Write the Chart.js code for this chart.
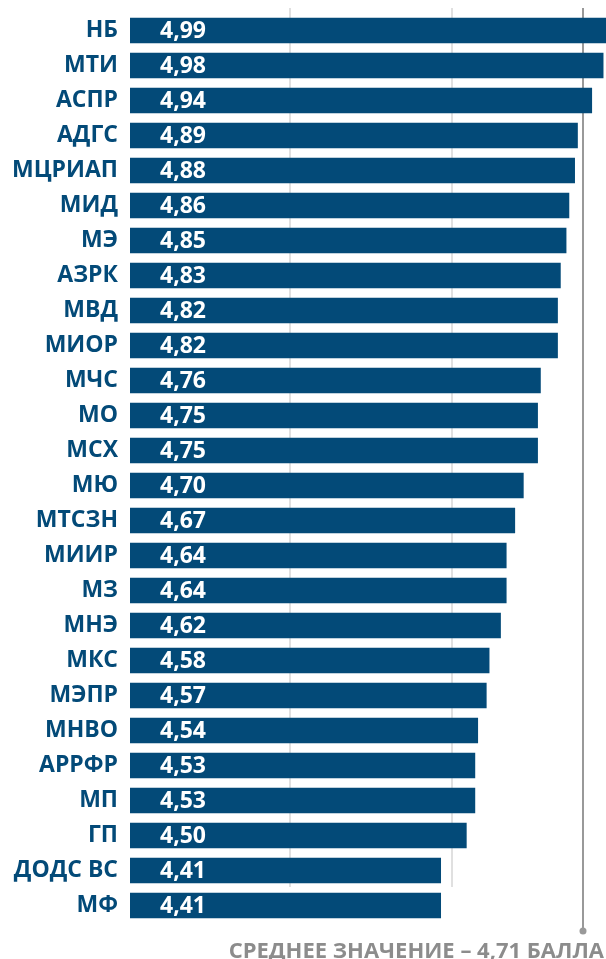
<!DOCTYPE html>
<html>
<head>
<meta charset="utf-8">
<script src="https://cdn.jsdelivr.net/npm/chart.js@4"></script>
<style>
  html, body { margin: 0; padding: 0; background: #ffffff; }
  #wrap { width: 606px; height: 959px; position: relative; }
</style>
</head>
<body>
<div id="wrap"><canvas id="chart"></canvas></div>
<script>
// Ministries / agencies
const categories = ['НБ', 'МТИ', 'АСПР', 'АДГС', 'МЦРИАП', 'МИД', 'МЭ', 'АЗРК', 'МВД', 'МИОР',
  'МЧС', 'МО', 'МСХ', 'МЮ', 'МТСЗН', 'МИИР', 'МЗ', 'МНЭ', 'МКС', 'МЭПР',
  'МНВО', 'АРРФР', 'МП', 'ГП', 'ДОДС ВС', 'МФ'];

// Scores
const scores = [4.99, 4.98, 4.94, 4.89, 4.88, 4.86, 4.85, 4.83, 4.82, 4.82,
  4.76, 4.75, 4.75, 4.70, 4.67, 4.64, 4.64, 4.62, 4.58, 4.57,
  4.54, 4.53, 4.53, 4.50, 4.41, 4.41];

// light vertical guides and the darker marker line
const gridValues = [3.88, 4.45];
const markerValue = 4.91;
const averageText = 'СРЕДНЕЕ ЗНАЧЕНИЕ – 4,71 БАЛЛА';

const NAVY = '#034a78';
const FONT = "'Open Sans', sans-serif";

const fmt = v => v.toFixed(2).replace('.', ',');

// guides drawn behind the bars
const guidesPlugin = {
  id: 'guides',
  beforeDatasetsDraw(chart) {
    const ctx = chart.ctx;
    const x = chart.scales.x;
    const y = chart.scales.y;
    const top = chart.chartArea.top - 5;
    const slot = y.getPixelForValue(1) - y.getPixelForValue(0);
    const gridBottom = y.getPixelForValue(categories.length - 2) + slot * 0.5 - 1;
    ctx.save();
    ctx.strokeStyle = '#e0e0e0';
    ctx.lineWidth = 2;
    gridValues.forEach(v => {
      const px = Math.round(x.getPixelForValue(v));
      ctx.beginPath();
      ctx.moveTo(px, top);
      ctx.lineTo(px, gridBottom);
      ctx.stroke();
    });
    // marker line
    const mx = Math.round(x.getPixelForValue(markerValue));
    const mBottom = chart.chartArea.bottom + 8;
    ctx.strokeStyle = '#999999';
    ctx.lineWidth = 2;
    ctx.beginPath();
    ctx.moveTo(mx, top);
    ctx.lineTo(mx, mBottom);
    ctx.stroke();
    ctx.fillStyle = '#999999';
    ctx.beginPath();
    ctx.arc(mx, mBottom, 3.5, 0, Math.PI * 2);
    ctx.fill();
    ctx.restore();
  },
  afterDraw(chart) {
    const ctx = chart.ctx;
    ctx.save();
    ctx.fillStyle = '#8c8c8c';
    ctx.font = `bold 22px ${FONT}`;
    ctx.textAlign = 'right';
    ctx.textBaseline = 'alphabetic';
    ctx.fillText(averageText, chart.width - 2, chart.height - 1);
    ctx.restore();
  }
};

// value labels inside bars
const valueLabels = {
  id: 'valueLabels',
  afterDatasetsDraw(chart) {
    const ctx = chart.ctx;
    const meta = chart.getDatasetMeta(0);
    const left = chart.chartArea.left;
    ctx.save();
    ctx.fillStyle = '#ffffff';
    ctx.font = `bold 23px ${FONT}`;
    ctx.textAlign = 'left';
    ctx.textBaseline = 'middle';
    meta.data.forEach((bar, i) => {
      ctx.fillText(fmt(scores[i]), left + 30, bar.y + 1);
    });
    ctx.restore();
  }
};

new Chart(document.getElementById('chart'), {
  type: 'bar',
  data: {
    labels: categories,
    datasets: [{
      data: scores,
      backgroundColor: NAVY,
      borderWidth: 0,
      barThickness: 25
    }]
  },
  options: {
    indexAxis: 'y',
    responsive: true,
    maintainAspectRatio: false,
    animation: false,
    layout: { padding: { top: 13, bottom: 36, left: 0, right: 0 } },
    plugins: {
      legend: { display: false },
      tooltip: { enabled: false }
    },
    scales: {
      x: {
        display: false,
        min: 3.32,
        max: 4.99
      },
      y: {
        grid: { display: false, drawTicks: false },
        border: { display: false },
        afterFit(scale) {
          scale.width = 130;
          scale.paddingTop = 0;
          scale.paddingBottom = 0;
        },
        ticks: {
          color: NAVY,
          padding: 12,
          font: { family: FONT, weight: 'bold', size: 23 }
        }
      }
    }
  },
  plugins: [guidesPlugin, valueLabels]
});
</script>
</body>
</html>
